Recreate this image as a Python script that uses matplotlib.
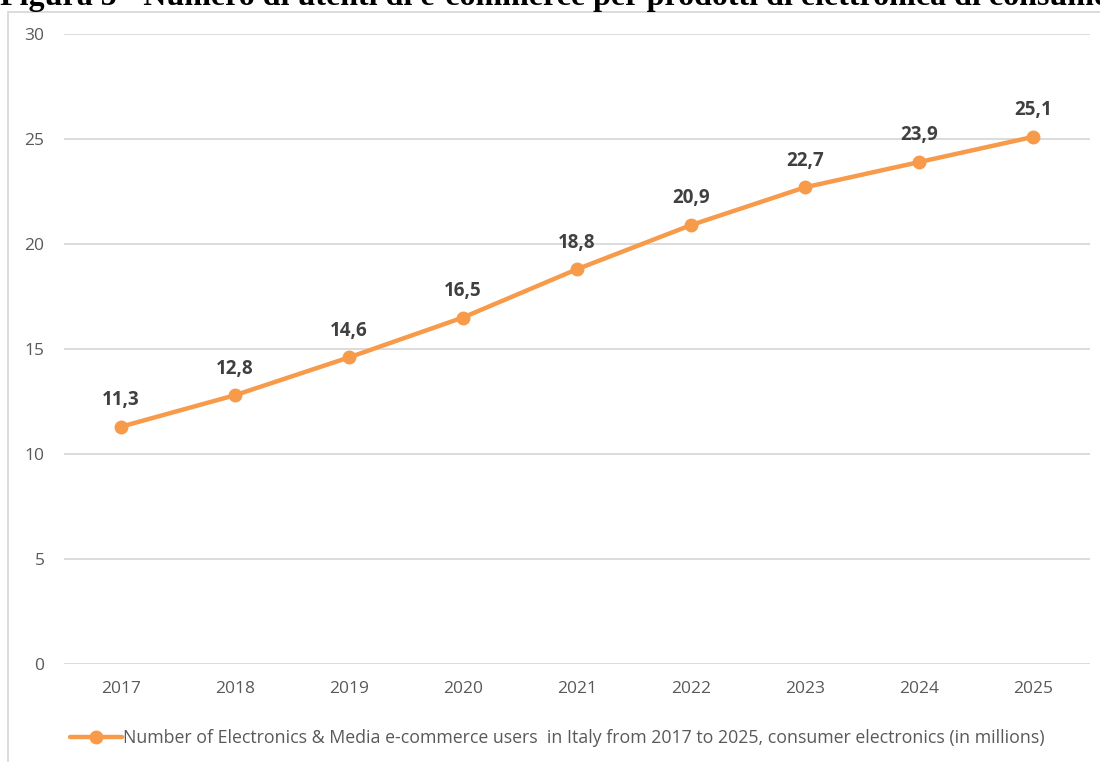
import matplotlib.pyplot as plt
from matplotlib.patches import Rectangle

# Electronics & Media e-commerce users in Italy (millions)
years = ['2017', '2018', '2019', '2020', '2021', '2022', '2023', '2024', '2025']
users = [11.3, 12.8, 14.6, 16.5, 18.8, 20.9, 22.7, 23.9, 25.1]
labels = ['11,3', '12,8', '14,6', '16,5', '18,8', '20,9', '22,7', '23,9', '25,1']
yticks = [0, 5, 10, 15, 20, 25, 30]

orange = '#F79A4A'
grey_text = '#595959'

fig = plt.figure(figsize=(11, 7.62), dpi=100)

# light frame around the chart area
fig.patches.append(Rectangle((8 / 1100, -0.01), 1.2, 1 - 12 / 762 + 0.01,
                             transform=fig.transFigure, fill=False,
                             edgecolor='#D9D9D9', linewidth=1.3))

# caption, cut at the top of the page
fig.text(0.0, 1 - 5 / 762, 'Figura 5 - Numero di utenti di e-commerce per prodotti di elettronica di consumo',
         family='Liberation Serif', fontweight='bold', fontsize=23, ha='left', va='baseline')

ax = fig.add_axes([64 / 1100, 1 - 664 / 762, (1090 - 64) / 1100, (664 - 34) / 762])
x = list(range(len(years)))
line, = ax.plot(x, users, color=orange, linewidth=3.2, marker='o', markersize=9,
                solid_capstyle='round', zorder=3)

for xi, v, lab in zip(x, users, labels):
    ax.annotate(lab, (xi, v), xytext=(0, 12), textcoords='offset points',
                ha='center', va='bottom', fontsize=13.5, fontweight='bold',
                color='#404040', family='Open Sans')

ax.set_xlim(-0.5, len(years) - 0.5)
ax.set_ylim(0, 30)
ax.set_yticks(yticks)
ax.set_xticks(x)
ax.set_xticklabels(years)
ax.grid(axis='y', color='#D9D9D9', linewidth=1.3)
ax.set_axisbelow(True)
for s in ax.spines.values():
    s.set_visible(False)
ax.tick_params(length=0, colors=grey_text, labelsize=12.5)
ax.tick_params(axis='y', pad=14)
ax.tick_params(axis='x', pad=12)
for t in ax.get_xticklabels() + ax.get_yticklabels():
    t.set_family('Open Sans')

fig.legend([line], ['Number of Electronics & Media e-commerce users  in Italy from 2017 to 2025, consumer electronics (in millions)'],
           loc='center left', bbox_to_anchor=(70 / 1100, 1 - 738 / 762), frameon=False,
           handlelength=2.9, handletextpad=0.1, borderpad=0, borderaxespad=0,
           prop={'family': 'Open Sans', 'size': 12.8}, labelcolor=grey_text)

fig.savefig('out.png', dpi=100)
